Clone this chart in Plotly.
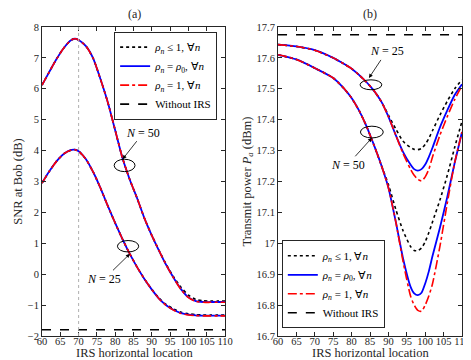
import plotly.graph_objects as go

# ---- data ----
x_snr = [60, 62, 64, 66, 68, 69, 70, 72, 74, 76, 78, 80, 82, 84, 86, 88, 90,
         92, 94, 96, 98, 100, 102, 104, 106, 108, 110]

snr50_one = [6.12, 6.55, 6.97, 7.33, 7.58, 7.62, 7.58, 7.38, 6.98, 6.30, 5.55, 4.65,
             3.75, 3.05, 2.45, 1.80, 1.25, 0.75, 0.28, -0.14, -0.50, -0.76, -0.88,
             -0.91, -0.91, -0.91, -0.91]
snr50_rho0 = [6.12, 6.55, 6.97, 7.33, 7.58, 7.62, 7.58, 7.38, 6.98, 6.30, 5.55, 4.65,
              3.75, 3.05, 2.45, 1.80, 1.25, 0.75, 0.28, -0.13, -0.49, -0.75, -0.87,
              -0.90, -0.90, -0.90, -0.90]
snr50_le1 = [6.12, 6.55, 6.97, 7.33, 7.58, 7.62, 7.58, 7.38, 6.98, 6.30, 5.55, 4.65,
             3.75, 3.05, 2.45, 1.80, 1.25, 0.76, 0.30, -0.10, -0.43, -0.68, -0.82,
             -0.86, -0.87, -0.87, -0.87]

snr25_one = [2.95, 3.33, 3.66, 3.90, 4.02, 4.03, 3.98, 3.72, 3.30, 2.78, 2.20, 1.65,
             1.13, 0.65, 0.22, -0.16, -0.50, -0.80, -1.02, -1.17, -1.27, -1.32, -1.34,
             -1.35, -1.35, -1.35, -1.35]
snr25_rho0 = [2.95, 3.33, 3.66, 3.90, 4.02, 4.03, 3.98, 3.72, 3.30, 2.78, 2.20, 1.65,
              1.13, 0.65, 0.22, -0.16, -0.50, -0.80, -1.01, -1.16, -1.26, -1.31, -1.33,
              -1.34, -1.34, -1.34, -1.34]
snr25_le1 = [2.95, 3.33, 3.66, 3.90, 4.02, 4.03, 3.98, 3.72, 3.30, 2.78, 2.20, 1.65,
             1.13, 0.65, 0.22, -0.16, -0.49, -0.78, -0.99, -1.13, -1.23, -1.28, -1.31,
             -1.32, -1.32, -1.32, -1.32]

snr_no_irs = -1.8

x_pow = [60, 65, 70, 75, 78, 80, 82, 84, 86, 88, 90, 92, 94, 96, 97, 98, 99, 100,
         101, 102, 104, 106, 108, 110]

p25_one = [17.643, 17.637, 17.625, 17.600, 17.580, 17.565, 17.545, 17.522, 17.495,
           17.46, 17.41, 17.35, 17.29, 17.24, 17.22, 17.207, 17.202, 17.215, 17.24,
           17.28, 17.35, 17.41, 17.465, 17.51]
p25_rho0 = [17.643, 17.637, 17.625, 17.600, 17.580, 17.565, 17.545, 17.522, 17.495,
            17.46, 17.41, 17.35, 17.295, 17.255, 17.24, 17.235, 17.24, 17.255, 17.28,
            17.31, 17.375, 17.43, 17.48, 17.515]
p25_le1 = [17.643, 17.637, 17.625, 17.600, 17.580, 17.565, 17.545, 17.522, 17.495,
           17.46, 17.415, 17.37, 17.33, 17.31, 17.304, 17.303, 17.307, 17.32, 17.34,
           17.365, 17.415, 17.46, 17.50, 17.53]

p50_one = [17.610, 17.595, 17.567, 17.535, 17.50, 17.47, 17.43, 17.38, 17.32,
           17.255, 17.18, 17.07, 16.94, 16.83, 16.80, 16.783, 16.78, 16.80, 16.83,
           16.87, 16.99, 17.13, 17.26, 17.36]
p50_rho0 = [17.610, 17.595, 17.567, 17.535, 17.50, 17.47, 17.43, 17.38, 17.32,
            17.255, 17.18, 17.07, 16.95, 16.86, 16.838, 16.832, 16.84, 16.87, 16.91,
            16.96, 17.05, 17.15, 17.26, 17.36]
p50_le1 = [17.610, 17.595, 17.567, 17.535, 17.50, 17.47, 17.43, 17.38, 17.32,
           17.255, 17.19, 17.11, 17.04, 16.99, 16.977, 16.976, 16.985, 17.005, 17.035,
           17.07, 17.14, 17.22, 17.31, 17.395]

p_no_irs = 17.675

names = ["<i>ρ<sub>n</sub></i> ≤ 1, ∀<i>n</i>",
         "<i>ρ<sub>n</sub></i> = <i>ρ</i><sub>0</sub>, ∀<i>n</i>",
         "<i>ρ<sub>n</sub></i> = 1, ∀<i>n</i>",
         "Without IRS"]
styles = [dict(color="black", dash="dot", width=1.6),
          dict(color="blue", dash="solid", width=1.8),
          dict(color="red", dash="dashdot", width=1.6),
          dict(color="black", dash="dash", width=1.6)]

FONT = "Liberation Serif"
INK = "#262626"
fig = go.Figure()


def add_panel(xs, groups, base, xa, ya, leg):
    for i, series in enumerate(groups):
        for j, ys in enumerate(series):
            fig.add_trace(go.Scatter(
                x=xs, y=ys, mode="lines", line=dict(shape="spline", smoothing=0.6, **styles[i]),
                name=names[i], legendgroup=leg + str(i), showlegend=(j == 0),
                legend=leg, xaxis=xa, yaxis=ya))
    fig.add_trace(go.Scatter(
        x=[xs[0], xs[-1]], y=[base, base], mode="lines", line=styles[3],
        name=names[3], legend=leg, xaxis=xa, yaxis=ya))


add_panel(x_snr, [[snr50_le1, snr25_le1], [snr50_rho0, snr25_rho0], [snr50_one, snr25_one]],
          snr_no_irs, "x", "y", "legend")
add_panel(x_pow, [[p25_le1, p50_le1], [p25_rho0, p50_rho0], [p25_one, p50_one]],
          p_no_irs, "x2", "y2", "legend2")

axis_common = dict(showline=True, linecolor=INK, linewidth=1, mirror="allticks",
                   ticks="inside", ticklen=4, tickcolor=INK, showgrid=False,
                   zeroline=False, tickangle=0,
                   tickfont=dict(size=10.5, color=INK, family=FONT),
                   title_font=dict(size=12.5, color=INK, family=FONT))

pow_ticks = [16.7, 16.8, 16.9, 17.0, 17.1, 17.2, 17.3, 17.4, 17.5, 17.6, 17.7]

legend_common = dict(bgcolor="white", bordercolor=INK, borderwidth=1,
                     font=dict(size=11, family=FONT, color="black"),
                     tracegroupgap=0, itemwidth=30)

fig.update_layout(
    width=471, height=360,
    margin=dict(l=33, r=9, t=19, b=32),
    paper_bgcolor="white", plot_bgcolor="white",
    font=dict(family=FONT, color=INK),
    xaxis=dict(domain=[0, 0.436], range=[60, 110], dtick=5, ticklabelstandoff=-5,
               **axis_common),
    yaxis=dict(range=[-2, 8], dtick=1,
               title=dict(text="SNR at Bob (dB)", standoff=2), **axis_common),
    xaxis2=dict(domain=[0.562, 1], range=[60, 110], dtick=5, anchor="y2",
                ticklabelstandoff=-5, **axis_common),
    yaxis2=dict(range=[16.7, 17.7], anchor="x2", tickvals=pow_ticks,
                ticktext=[("%g" % v) for v in pow_ticks],
                title=dict(text="Transmit power <i>P<sub>a</sub></i> (dBm)", standoff=2),
                **axis_common),
    legend=dict(x=0.417, y=0.985, xanchor="right", yanchor="top", **legend_common),
    legend2=dict(x=0.571, y=0.025, xanchor="left", yanchor="bottom", **legend_common),
)

fig.add_vline(x=70, line=dict(color="#b0b0b0", dash="dot", width=1), xref="x", yref="y")

# ellipses around the curves
ell = dict(type="circle", line=dict(color="black", width=1))
fig.add_shape(x0=79.7, x1=85.4, y0=3.32, y1=3.72, xref="x", yref="y", **ell)
fig.add_shape(x0=80.6, x1=86.4, y0=0.72, y1=1.09, xref="x", yref="y", **ell)
fig.add_shape(x0=82.3, x1=88.2, y0=17.497, y1=17.529, xref="x2", yref="y2", **ell)
fig.add_shape(x0=82.4, x1=88.6, y0=17.341, y1=17.379, xref="x2", yref="y2", **ell)

arrow = dict(showarrow=True, arrowhead=2, arrowsize=1, arrowwidth=0.8, arrowcolor="black",
             font=dict(size=12, color="black", family=FONT))
fig.add_annotation(x=82.0, y=3.72, ax=87.7, ay=4.58, axref="x", ayref="y", xref="x", yref="y",
                   text="<i>N</i> = 50", **arrow)
fig.add_annotation(x=84.0, y=0.66, ax=77.0, ay=-0.15, axref="x", ayref="y", xref="x", yref="y",
                   text="<i>N</i> = 25", **arrow)
fig.add_annotation(x=84.7, y=17.535, ax=89.5, ay=17.621, axref="x2", ayref="y2", xref="x2",
                   yref="y2", text="<i>N</i> = 25", **arrow)
fig.add_annotation(x=85.5, y=17.341, ax=78.9, ay=17.254, axref="x2", ayref="y2", xref="x2",
                   yref="y2", text="<i>N</i> = 50", **arrow)

# panel labels and x-axis titles (left anchored)
for lx, tx, lab in [(0.200, 0.077, "(a)"), (0.760, 0.639, "(b)")]:
    fig.add_annotation(x=lx, y=1.012, xref="paper", yref="paper", xanchor="left",
                       yanchor="bottom", showarrow=False, text=lab,
                       font=dict(size=12, family=FONT, color=INK))
    fig.add_annotation(x=tx, y=-0.026, xref="paper", yref="paper", xanchor="left",
                       yanchor="top", showarrow=False, text="IRS horizontal location",
                       font=dict(size=12.5, family=FONT, color=INK))

fig.write_html("out.html")
